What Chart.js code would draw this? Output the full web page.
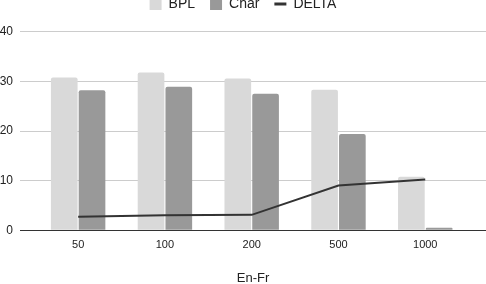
<!DOCTYPE html>
<html>
<head>
<meta charset="utf-8">
<script src="https://cdn.jsdelivr.net/npm/chart.js@4"></script>
<style>
  html, body { margin: 0; padding: 0; background: #fff; }
  #wrap { width: 486px; height: 284px; }
</style>
</head>
<body>
<div id="wrap"><canvas id="deltaChart"></canvas></div>
<script>
const categories = ['50', '100', '200', '500', '1000'];
const bplValues = [30.8, 31.8, 30.6, 28.3, 10.8];
const charValues = [28.2, 28.9, 27.5, 19.4, 0.5];
const deltaValues = [2.7, 3.0, 3.1, 9.0, 10.2];
const yTicks = [0, 10, 20, 30, 40];
const legendOrder = ['BPL', 'Char', 'DELTA'];

const toPoints = (vals) => vals.map((v, i) => ({ x: i, y: v }));

Chart.defaults.font.family = '"Liberation Sans", Arial, sans-serif';
Chart.defaults.color = '#222';

const ctx = document.getElementById('deltaChart').getContext('2d');

new Chart(ctx, {
    type: 'bar',
    data: {
        datasets: [
            {
                type: 'line',
                label: 'DELTA',
                data: toPoints(deltaValues),
                borderColor: '#333',
                backgroundColor: '#333',
                borderWidth: 2,
                pointRadius: 0,
                pointStyle: 'line',
                tension: 0,
                order: 0
            },
            {
                label: 'BPL',
                data: toPoints(bplValues),
                backgroundColor: '#d9d9d9',
                borderRadius: { topLeft: 2, topRight: 2 },
                borderSkipped: 'bottom',
                pointStyle: 'rect',
                categoryPercentage: 0.64,
                barPercentage: 0.96,
                order: 1
            },
            {
                label: 'Char',
                data: toPoints(charValues),
                backgroundColor: '#999999',
                borderRadius: { topLeft: 2, topRight: 2 },
                borderSkipped: 'bottom',
                pointStyle: 'rect',
                categoryPercentage: 0.64,
                barPercentage: 0.96,
                order: 1
            }
        ]
    },
    options: {
        responsive: true,
        maintainAspectRatio: false,
        animation: false,
        layout: { padding: { top: -18, right: 0, left: 0, bottom: -2 } },
        plugins: {
            // empty title used only as a spacer between legend and plot
            title: {
                display: true,
                text: '',
                font: { size: 9 },
                padding: 0
            },
            legend: {
                position: 'top',
                weight: 3000,
                labels: {
                    font: { size: 14 },
                    usePointStyle: true,
                    boxHeight: 12,
                    pointStyleWidth: 12,
                    padding: 15,
                    color: '#222',
                    sort: (a, b) => legendOrder.indexOf(a.text) - legendOrder.indexOf(b.text),
                    generateLabels: (chart) => {
                        const items = Chart.defaults.plugins.legend.labels.generateLabels(chart);
                        items.forEach(it => {
                            if (it.text === 'DELTA') {
                                it.lineWidth = 3;
                                it.strokeStyle = '#333';
                            } else {
                                it.lineWidth = 0;
                            }
                        });
                        return items;
                    }
                }
            },
            tooltip: { enabled: false }
        },
        scales: {
            x: {
                type: 'linear',
                min: -0.67,
                max: 4.7,
                offset: false,
                afterBuildTicks: (s) => {
                    s.ticks = s.ticks.filter(t => Number.isInteger(t.value) && t.value >= 0 && t.value < categories.length);
                },
                ticks: {
                    stepSize: 1,
                    font: { size: 11 },
                    padding: 8,
                    autoSkip: false,
                    maxRotation: 0,
                    callback: (v) => categories[v]
                },
                grid: { display: false, drawTicks: false },
                border: { display: true, color: '#333', width: 1 },
                title: {
                    display: true,
                    text: 'En-Fr',
                    font: { size: 13 },
                    padding: { top: 11, bottom: 0 }
                }
            },
            y: {
                min: 0,
                max: 40,
                afterBuildTicks: (s) => {
                    s.ticks = yTicks.map(v => ({ value: v }));
                },
                afterFit: (s) => { s.width = 20; },
                ticks: {
                    font: { size: 12 },
                    padding: 7
                },
                grid: { color: '#cccccc', drawTicks: false },
                border: { display: false }
            }
        }
    }
});
</script>
</body>
</html>
